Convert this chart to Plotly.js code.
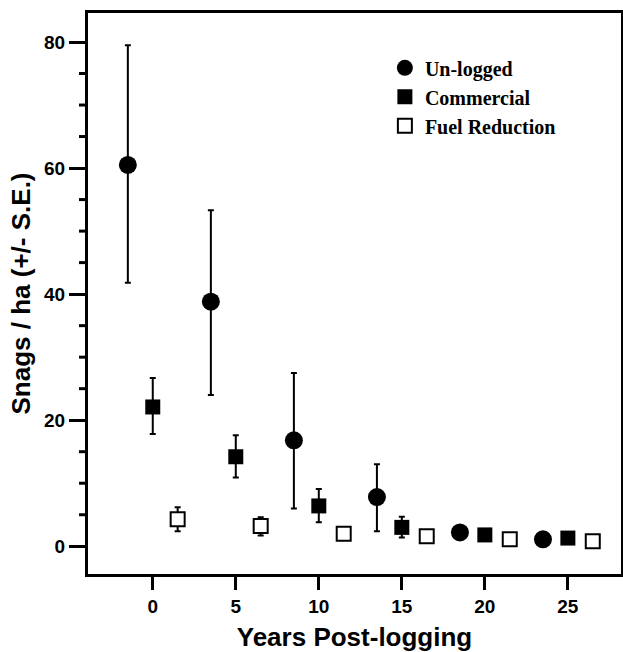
<!DOCTYPE html>
<html>
<head>
<meta charset="utf-8">
<script src="https://cdn.plot.ly/plotly-3.0.1.min.js"></script>
<style>html,body{margin:0;padding:0;background:#fff;}#chart{width:623px;height:652px;}</style>
</head>
<body>
<div id="chart"></div>
<script>
// Un-logged
const unloggedX = [-1.5, 3.5, 8.5, 13.5, 18.5, 23.5];
const unloggedY = [60.5, 38.8, 16.8, 7.8, 2.2, 1.1];
const unloggedErrUp = [19.0, 14.5, 10.7, 5.2, 0, 0];
const unloggedErrDown = [18.7, 14.8, 10.8, 5.4, 0, 0];
// Commercial
const commercialX = [0, 5, 10, 15, 20, 25];
const commercialY = [22.1, 14.2, 6.4, 3.0, 1.8, 1.3];
const commercialErrUp = [4.6, 3.4, 2.7, 1.7, 0, 0];
const commercialErrDown = [4.3, 3.3, 2.6, 1.6, 0, 0];
// Fuel Reduction
const fuelX = [1.5, 6.5, 11.5, 16.5, 21.5, 26.5];
const fuelY = [4.3, 3.2, 2.0, 1.6, 1.1, 0.8];
const fuelErrUp = [1.9, 1.4, 0, 0, 0, 0];
const fuelErrDown = [1.9, 1.5, 0, 0, 0, 0];

const xTicks = [0, 5, 10, 15, 20, 25];
const yTicks = [0, 20, 40, 60, 80];
const yMinorTicks = [5, 10, 15, 25, 30, 35, 45, 50, 55, 65, 70, 75];

const yRange = [-4.4, 84.6];
const plotWidthPx = 623 - 88 - 2;

function err(up, down) {
  return {type: 'data', symmetric: false, array: up, arrayminus: down,
          color: '#000', thickness: 2, width: 3};
}

const traces = [
  {x: unloggedX, y: unloggedY, name: 'Un-logged', type: 'scatter', mode: 'markers',
   marker: {symbol: 'circle', size: 18, color: '#000'},
   error_y: err(unloggedErrUp, unloggedErrDown)},
  {x: commercialX, y: commercialY, name: 'Commercial', type: 'scatter', mode: 'markers',
   marker: {symbol: 'square', size: 15, color: '#000'},
   error_y: err(commercialErrUp, commercialErrDown)},
  {x: fuelX, y: fuelY, name: 'Fuel Reduction', type: 'scatter', mode: 'markers',
   marker: {symbol: 'square', size: 14, color: '#fff', line: {color: '#000', width: 2}},
   error_y: err(fuelErrUp, fuelErrDown)}
];

const tickFont = {family: 'Liberation Sans, Arial, sans-serif', size: 19, color: '#000', weight: 'bold'};
const titleFont = {family: 'Liberation Sans, Arial, sans-serif', size: 26, color: '#000', weight: 'bold'};

// short minor tick marks on the y axis, every 5 units
const minorTickShapes = yMinorTicks.map(v => ({
  type: 'line', xref: 'paper', yref: 'y', x0: -9 / plotWidthPx, x1: 0, y0: v, y1: v,
  line: {color: '#000', width: 3}, layer: 'above'
}));

const layout = {
  width: 623, height: 652,
  margin: {l: 88, r: 2, t: 13, b: 78},
  paper_bgcolor: '#fff', plot_bgcolor: '#fff',
  showlegend: true,
  shapes: minorTickShapes,
  legend: {x: 0.557, y: 0.937, xanchor: 'left', yanchor: 'top',
           bgcolor: 'rgba(0,0,0,0)', borderwidth: 0, tracegroupgap: 0, itemwidth: 30,
           font: {family: 'Liberation Serif, Times New Roman, serif', size: 20, color: '#000', weight: 'bold'}},
  xaxis: {range: [-3.9, 28.2], tickvals: xTicks, ticktext: xTicks.map(String),
          ticks: 'outside', ticklen: 13, tickwidth: 3, tickcolor: '#000',
          showline: true, linewidth: 3, linecolor: '#000', mirror: true,
          showgrid: false, zeroline: false, tickfont: tickFont,
          title: {text: 'Years Post-logging', standoff: 13, font: titleFont}},
  yaxis: {range: yRange, tickvals: yTicks, ticktext: yTicks.map(String),
          ticks: 'outside', ticklen: 16, tickwidth: 3, tickcolor: '#000',
          showline: true, linewidth: 3, linecolor: '#000', mirror: true,
          showgrid: false, zeroline: false, tickfont: tickFont,
          title: {text: 'Snags / ha (+/- S.E.)', standoff: 6, font: titleFont}}
};

Plotly.newPlot('chart', traces, layout, {displayModeBar: false, staticPlot: true});
</script>
</body>
</html>
